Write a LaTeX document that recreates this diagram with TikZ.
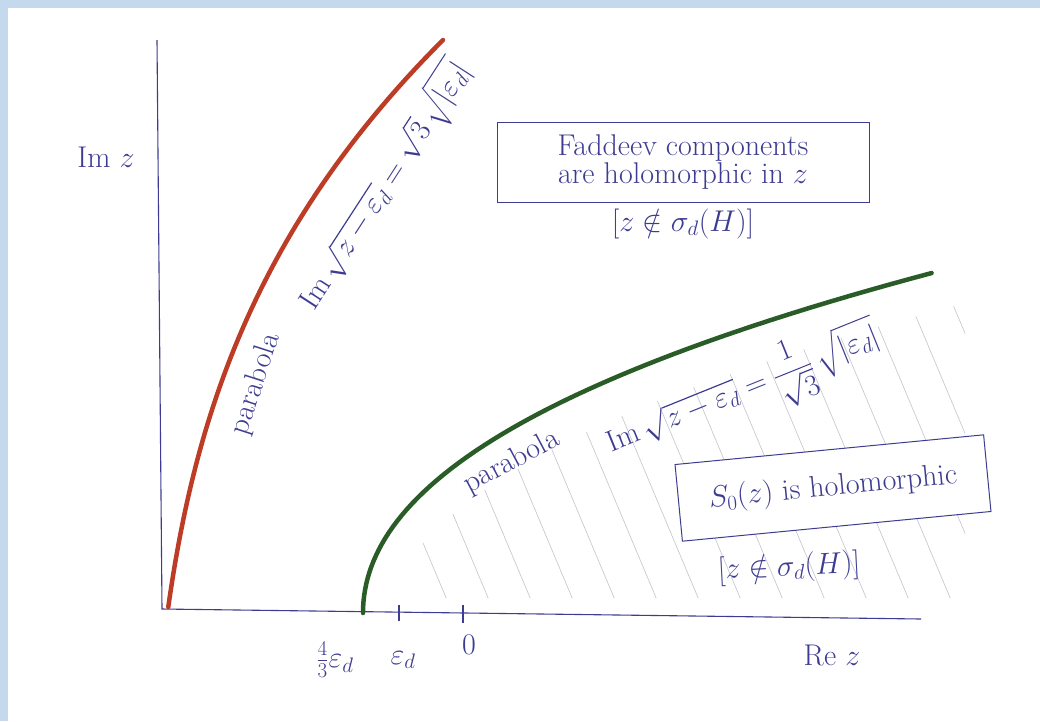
\RequirePackage{fix-cm}
\documentclass[tikz,border=0pt]{standalone}
\usepackage{amsmath}
\usepackage{fontspec}
\usepackage{tikz}
\usetikzlibrary{positioning,calc}
\definecolor{inkblue}{RGB}{62,60,145}
\definecolor{redink}{RGB}{188,60,38}
\definecolor{greenink}{RGB}{42,92,40}
\definecolor{frameblue}{RGB}{196,216,238}
\definecolor{hatchgray}{RGB}{195,195,205}

\begin{document}
\begin{tikzpicture}[x=1pt,y=-1pt,
  ink/.style={draw=inkblue,line width=1.1pt},
  hand/.style={text=inkblue,font=\fontsize{30}{28}\selectfont,inner sep=0pt},
  claim/.style={hand,draw=inkblue,line width=1pt,align=center,inner sep=4pt},
  parab/.style={line width=4.5pt,line cap=round},
  hatchline/.style={draw=hatchgray,line width=0.6pt}
]
% frame and paper
\fill[frameblue] (0,0) rectangle (1040,721);
\fill[white] (8,8) rectangle (1040,721);

% hatched region below the green parabola
\begin{scope}
  \clip plot[domain=0.3:3.45,samples=40] ({378+37.1*\x*\x+3.56*\x*\x*\x},{648-100*\x}) -- (965,303) -- (965,598) -- (378,598) -- cycle;
  \foreach \s in {0,...,16}
    \draw[hatchline] (300+\s*42,250) -- ++(168,400);
\end{scope}

% axes
\coordinate (orig) at (162,609);
\coordinate (imtop) at (157,40);
\coordinate (reend) at (921,619);
\draw[ink] (imtop) -- (orig) -- (reend);

% ticks
\coordinate (tkeps) at (399,613);
\coordinate (tkzero) at (463,614);
\draw[ink] (tkeps) ++(0,-8) -- ++(0,16);
\draw[ink] (tkzero) ++(0,-9) -- ++(0,18);

% the two parabolas
\draw[parab,draw=redink] plot[domain=0.02:5.69,samples=60] ({168+14.01*\x+2.99*\x*\x+0.5344*\x*\x*\x},{609-100*\x});
\draw[parab,draw=greenink] plot[domain=0:3.40,samples=60] ({363+37.1*\x*\x+3.56*\x*\x*\x},{613-100*\x});

% axis labels
\node[hand] (imz) at (106,157) {Im $z$};
\node[hand] (rez) at (832,655) {Re $z$};
\node[hand] (lfour) at (335,660) {$\frac{4}{3}\varepsilon_d$};
\node[hand] (leps) at (403,660) {$\varepsilon_d$};
\node[hand] (lzero) at (469,645) {$0$};

% curve labels
\node[hand,rotate=72] (redname) at (256,384) {parabola};
\node[hand,rotate=57] (redeq) at (385,186) {$\operatorname{Im}\sqrt{z-\varepsilon_d}=\sqrt{3}\,\sqrt{|\varepsilon_d|}$};
\node[hand,rotate=28] (grnname) at (512,462) {parabola};
\node[hand,rotate=22] (grneq) at (744,392) {$\operatorname{Im}\sqrt{z-\varepsilon_d}=\dfrac{1}{\sqrt{3}}\,\sqrt{|\varepsilon_d|}$};

% statements
\node[claim,minimum width=372,minimum height=80] (fadd) at (683,162) {Faddeev components\\are holomorphic in $z$};
\node[hand,below=6pt of fadd] (faddsig) {$[z\notin\sigma_d(H)]$};
\node[claim,rotate=5.5,minimum width=310,minimum height=77,fill=white] (szero) at (833,488) {$S_0(z)$ is holomorphic};
\node[hand,rotate=3] (szerosig) at (789,568) {$[z\notin\sigma_d(H)]$};
\end{tikzpicture}
\end{document}
